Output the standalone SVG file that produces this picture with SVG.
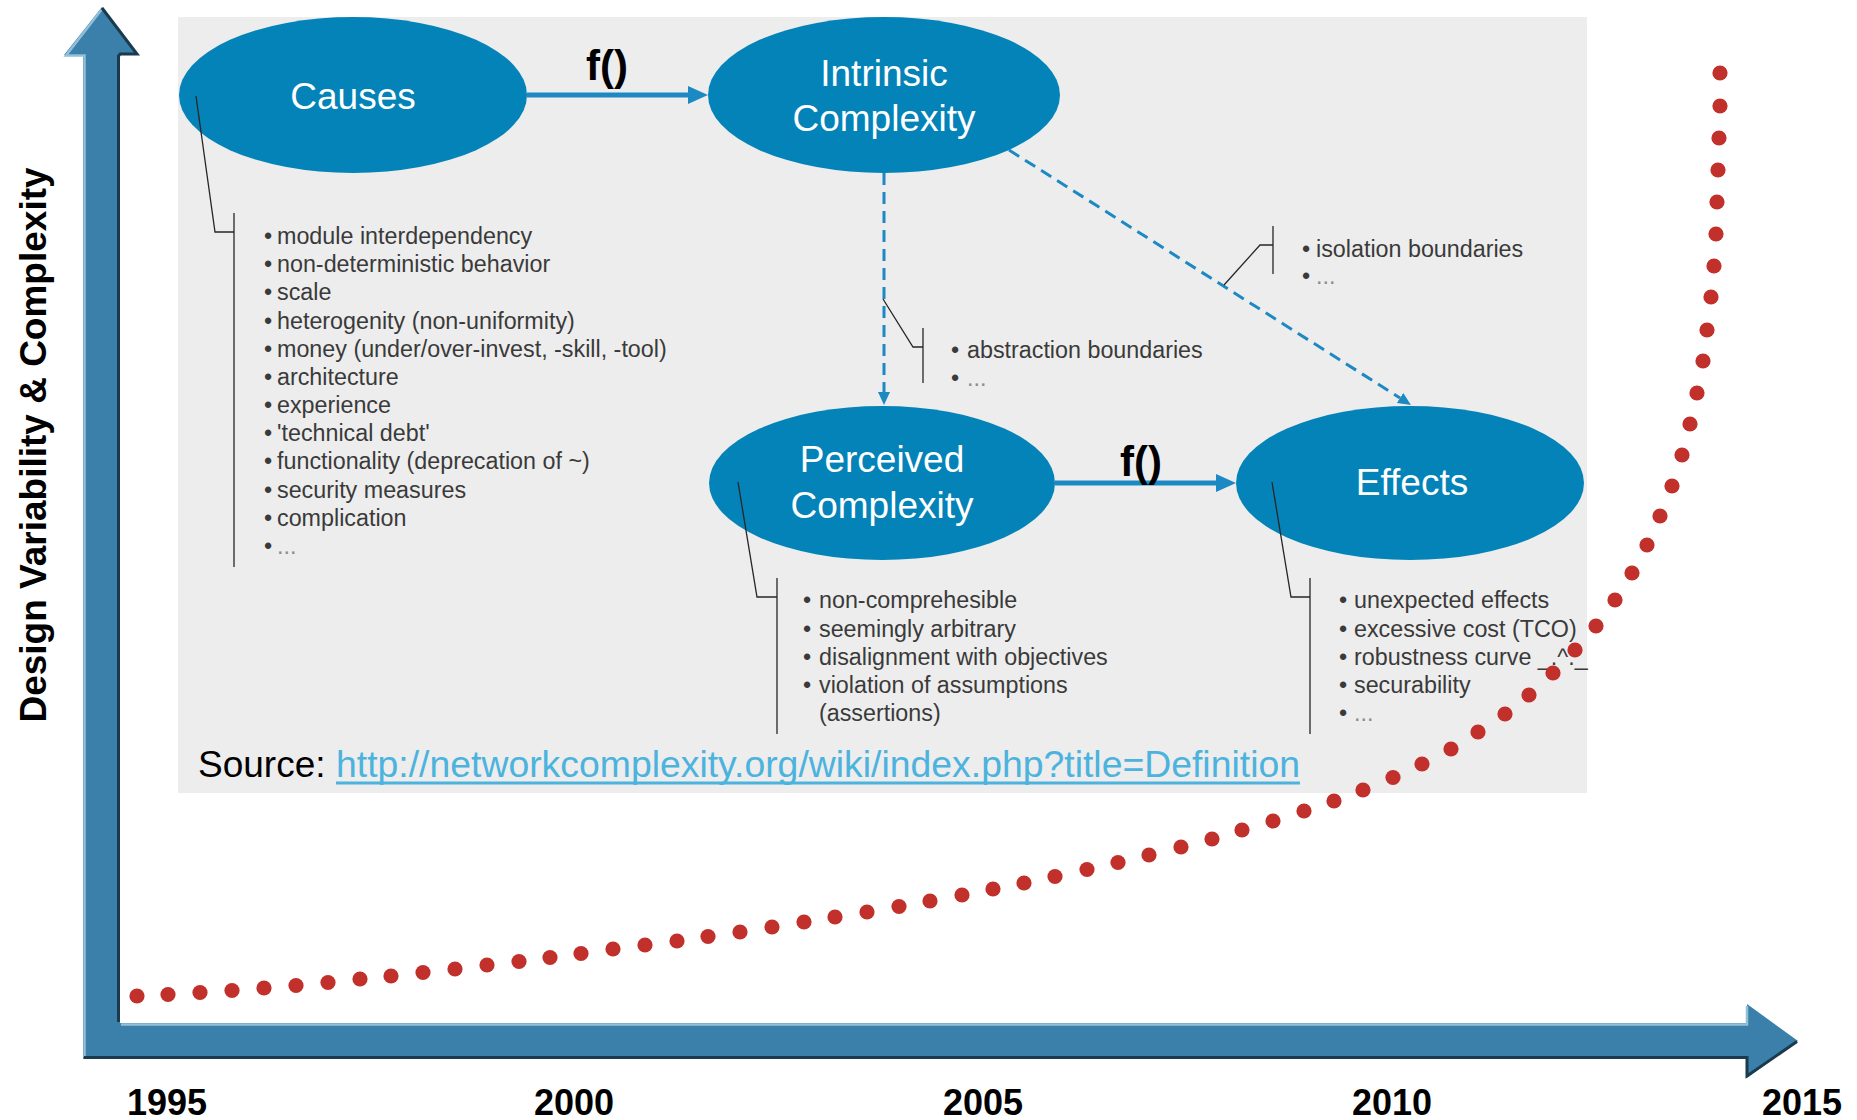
<svg xmlns="http://www.w3.org/2000/svg" width="1857" height="1120" viewBox="0 0 1857 1120">
  <defs>
    <style>
      text { font-family: "Liberation Sans", Arial, sans-serif; }
      .panel { fill: #ededed; }
      .node ellipse { fill: #0483b8; }
      .nlabel { font-size: 37px; fill: #ffffff; text-anchor: middle; }
      .fx { font-size: 42px; font-weight: bold; fill: #000000; }
      .item { font-size: 23.3px; fill: #3a3a3a; }
      .more { fill: #8c8c8c; }
      .callout { fill: none; stroke: #262626; stroke-width: 1.3; }
      .solid { fill: none; stroke: #1c89c3; stroke-width: 5; }
      .dashed { fill: none; stroke: #1c89c3; stroke-width: 3; stroke-dasharray: 12 7; }
      .dots circle { fill: #c1302a; }
      .year { font-size: 36px; font-weight: bold; fill: #000000; text-anchor: middle; }
      .axis-fill { fill: #3a80aa; }
      .axis-dark { fill: none; stroke: #1b3a4e; stroke-width: 3; }
      .axis-light { fill: none; stroke: #93bfd9; stroke-width: 2.5; }
    </style>
    <marker id="head" markerUnits="userSpaceOnUse" markerWidth="20" markerHeight="18" refX="0" refY="9" orient="auto">
      <path d="M0,0 L20,9 L0,18 Z" fill="#1c89c3"/>
    </marker>
    <marker id="head-small" markerUnits="userSpaceOnUse" markerWidth="13" markerHeight="12" refX="0" refY="6" orient="auto">
      <path d="M0,0 L13,6 L0,12 Z" fill="#1c89c3"/>
    </marker>
  </defs>

  <rect width="1857" height="1120" fill="#ffffff"/>

  <!-- background panel of the complexity model -->
  <rect class="panel" x="178" y="17" width="1409" height="776"/>

  <!-- connectors between the model nodes -->
  <g id="connectors">
    <line class="solid" x1="527" y1="95" x2="688" y2="95" marker-end="url(#head)"/>
    <line class="solid" x1="1055" y1="483" x2="1216" y2="483" marker-end="url(#head)"/>
    <line class="dashed" x1="884" y1="173" x2="884" y2="392" marker-end="url(#head-small)"/>
    <line class="dashed" x1="1009" y1="150" x2="1400" y2="398" marker-end="url(#head-small)"/>
    <text class="fx" x="586" y="80">f()</text>
    <text class="fx" x="1120" y="476">f()</text>
  </g>

  <!-- model nodes -->
  <g id="node-causes" class="node">
    <ellipse cx="353" cy="95" rx="174" ry="78"/>
    <text class="nlabel" x="353" y="109">Causes</text>
  </g>
  <g id="node-intrinsic" class="node">
    <ellipse cx="884" cy="95" rx="176" ry="78"/>
    <text class="nlabel" x="884" y="86">Intrinsic</text>
    <text class="nlabel" x="884" y="131">Complexity</text>
  </g>
  <g id="node-perceived" class="node">
    <ellipse cx="882" cy="483" rx="173" ry="77"/>
    <text class="nlabel" x="882" y="472">Perceived</text>
    <text class="nlabel" x="882" y="518">Complexity</text>
  </g>
  <g id="node-effects" class="node">
    <ellipse cx="1410" cy="483" rx="174" ry="77"/>
    <text class="nlabel" x="1412" y="495">Effects</text>
  </g>

  <!-- annotation: causes -->
  <g id="note-causes">
    <polyline class="callout" points="196,96 215,232 234,232"/>
    <line class="callout" x1="234" y1="213" x2="234" y2="567"/>
    <g class="item">
      <text x="264" y="244">•<tspan x="277">module interdependency</tspan></text>
      <text x="264" y="272">•<tspan x="277">non-deterministic behavior</tspan></text>
      <text x="264" y="300">•<tspan x="277">scale</tspan></text>
      <text x="264" y="329">•<tspan x="277">heterogenity (non-uniformity)</tspan></text>
      <text x="264" y="357">•<tspan x="277">money (under/over-invest, -skill, -tool)</tspan></text>
      <text x="264" y="385">•<tspan x="277">architecture</tspan></text>
      <text x="264" y="413">•<tspan x="277">experience</tspan></text>
      <text x="264" y="441">•<tspan x="277">'technical debt'</tspan></text>
      <text x="264" y="469">•<tspan x="277">functionality (deprecation of ~)</tspan></text>
      <text x="264" y="498">•<tspan x="277">security measures</tspan></text>
      <text x="264" y="526">•<tspan x="277">complication</tspan></text>
      <text x="264" y="554">•<tspan x="277" class="more">...</tspan></text>
    </g>
  </g>

  <!-- annotation: abstraction boundaries -->
  <g id="note-abstraction">
    <polyline class="callout" points="883,299 913,347 923,347"/>
    <line class="callout" x1="923" y1="328" x2="923" y2="383"/>
    <g class="item">
      <text x="951" y="358">•<tspan x="967">abstraction boundaries</tspan></text>
      <text x="951" y="386">•<tspan x="967" class="more">...</tspan></text>
    </g>
  </g>

  <!-- annotation: isolation boundaries -->
  <g id="note-isolation">
    <polyline class="callout" points="1224,285 1260,245 1273,245"/>
    <line class="callout" x1="1273" y1="226" x2="1273" y2="274"/>
    <g class="item">
      <text x="1302" y="257">•<tspan x="1316">isolation boundaries</tspan></text>
      <text x="1302" y="284">•<tspan x="1316" class="more">...</tspan></text>
    </g>
  </g>

  <!-- annotation: perceived complexity -->
  <g id="note-perceived">
    <polyline class="callout" points="738,482 757,597 777,597"/>
    <line class="callout" x1="777" y1="578" x2="777" y2="734"/>
    <g class="item">
      <text x="803" y="608">•<tspan x="819">non-comprehesible</tspan></text>
      <text x="803" y="637">•<tspan x="819">seemingly arbitrary</tspan></text>
      <text x="803" y="665">•<tspan x="819">disalignment with objectives</tspan></text>
      <text x="803" y="693">•<tspan x="819">violation of assumptions</tspan></text>
      <text x="819" y="721">(assertions)</text>
    </g>
  </g>

  <!-- annotation: effects -->
  <g id="note-effects">
    <polyline class="callout" points="1272,482 1291,597 1310,597"/>
    <line class="callout" x1="1310" y1="578" x2="1310" y2="734"/>
    <g class="item">
      <text x="1339" y="608">•<tspan x="1354">unexpected effects</tspan></text>
      <text x="1339" y="637">•<tspan x="1354">excessive cost (TCO)</tspan></text>
      <text x="1339" y="665">•<tspan x="1354">robustness curve _.^._</tspan></text>
      <text x="1339" y="693">•<tspan x="1354">securability</tspan></text>
      <text x="1339" y="721">•<tspan x="1354" class="more">...</tspan></text>
    </g>
  </g>

  <!-- source reference -->
  <g id="source">
    <text x="198" y="777" font-size="37" fill="#000000">Source:</text>
    <text x="336" y="777" font-size="37" fill="#4bb3dd" textLength="964" lengthAdjust="spacingAndGlyphs">http://networkcomplexity.org/wiki/index.php?title=Definition</text>
    <line x1="336" y1="783" x2="1300" y2="783" stroke="#4bb3dd" stroke-width="3"/>
  </g>

  <!-- growth curve -->
  <g class="dots">
    <circle cx="137" cy="996" r="7.6"/><circle cx="168" cy="994.5" r="7.6"/><circle cx="200" cy="992.5" r="7.6"/>
    <circle cx="232" cy="990.5" r="7.6"/><circle cx="264" cy="988" r="7.6"/><circle cx="296" cy="985.5" r="7.6"/>
    <circle cx="328" cy="982.5" r="7.6"/><circle cx="360" cy="979" r="7.6"/><circle cx="391" cy="976" r="7.6"/>
    <circle cx="423" cy="972.5" r="7.6"/><circle cx="455" cy="969" r="7.6"/><circle cx="487" cy="965" r="7.6"/>
    <circle cx="519" cy="961.5" r="7.6"/><circle cx="550" cy="957.5" r="7.6"/><circle cx="581" cy="953.5" r="7.6"/>
    <circle cx="613" cy="949" r="7.6"/><circle cx="645" cy="945" r="7.6"/><circle cx="677" cy="941" r="7.6"/>
    <circle cx="708" cy="936.5" r="7.6"/><circle cx="740" cy="932" r="7.6"/><circle cx="772" cy="927" r="7.6"/>
    <circle cx="804" cy="922" r="7.6"/><circle cx="835" cy="917" r="7.6"/><circle cx="867" cy="912" r="7.6"/>
    <circle cx="899" cy="906.5" r="7.6"/><circle cx="930" cy="901" r="7.6"/><circle cx="962" cy="895" r="7.6"/>
    <circle cx="993" cy="889" r="7.6"/><circle cx="1024" cy="883" r="7.6"/><circle cx="1055" cy="876.5" r="7.6"/>
    <circle cx="1087" cy="869.5" r="7.6"/><circle cx="1118" cy="862.5" r="7.6"/><circle cx="1149" cy="855" r="7.6"/>
    <circle cx="1181" cy="847" r="7.6"/><circle cx="1212" cy="839" r="7.6"/><circle cx="1242" cy="830" r="7.6"/>
    <circle cx="1273" cy="821" r="7.6"/><circle cx="1304" cy="811" r="7.6"/><circle cx="1334" cy="801" r="7.6"/>
    <circle cx="1363" cy="790" r="7.6"/><circle cx="1393" cy="777.5" r="7.6"/><circle cx="1422" cy="764" r="7.6"/>
    <circle cx="1451" cy="749" r="7.6"/><circle cx="1478" cy="732" r="7.6"/><circle cx="1505" cy="714" r="7.6"/>
    <circle cx="1529" cy="695" r="7.6"/><circle cx="1553" cy="673" r="7.6"/><circle cx="1575" cy="650" r="7.6"/>
    <circle cx="1596" cy="626" r="7.6"/><circle cx="1615" cy="600" r="7.6"/><circle cx="1632" cy="573" r="7.6"/>
    <circle cx="1647" cy="545" r="7.6"/><circle cx="1660" cy="516" r="7.6"/><circle cx="1672" cy="486" r="7.6"/>
    <circle cx="1682" cy="455" r="7.6"/><circle cx="1690" cy="424" r="7.6"/><circle cx="1697" cy="393" r="7.6"/>
    <circle cx="1703" cy="361" r="7.6"/><circle cx="1707" cy="330" r="7.6"/><circle cx="1711" cy="297" r="7.6"/>
    <circle cx="1714" cy="266" r="7.6"/><circle cx="1716" cy="234" r="7.6"/><circle cx="1717" cy="202" r="7.6"/>
    <circle cx="1718" cy="170" r="7.6"/><circle cx="1719" cy="138" r="7.6"/><circle cx="1720" cy="106" r="7.6"/>
    <circle cx="1720" cy="73" r="7.6"/>
  </g>

  <!-- axes -->
  <g id="axes">
    <polygon class="axis-fill" points="64,55 102,7 138,55 120,55 120,1023 1747,1023 1747,1004 1798,1041 1747,1078 1747,1059 83,1059 83,55"/>
    <polyline class="axis-light" points="84.5,1057 84.5,55.5 66,55.5 102,9"/>
    <polyline class="axis-light" points="121,1024.5 1747,1024.5 1747,1006"/>
    <polyline class="axis-dark" points="102,8 137,54 120,54 118.5,56 118.5,1022"/>
    <polyline class="axis-dark" points="84,1057.5 1747,1057.5 1747,1076 1797,1041.5"/>
  </g>

  <!-- axis labels -->
  <text x="46" y="445" transform="rotate(-90 46 445)" font-size="37" font-weight="bold" fill="#000000" text-anchor="middle">Design Variability &amp; Complexity</text>
  <g id="years">
    <text class="year" x="167" y="1115">1995</text>
    <text class="year" x="574" y="1115">2000</text>
    <text class="year" x="983" y="1115">2005</text>
    <text class="year" x="1392" y="1115">2010</text>
    <text class="year" x="1802" y="1115">2015</text>
  </g>
</svg>
